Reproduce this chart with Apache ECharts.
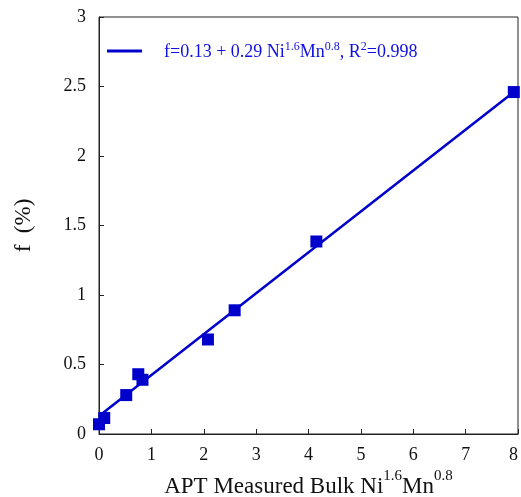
<!DOCTYPE html>
<html><head><meta charset="utf-8">
<script src="https://cdn.jsdelivr.net/npm/echarts@6/dist/echarts.min.js"></script>
<style>html,body{margin:0;padding:0;background:#fff}#c{width:521px;height:497px}</style>
</head><body><div id="c"></div>
<script>
// Measured data points
const xValues = [0.0, 0.1, 0.52, 0.75, 0.83, 2.08, 2.59, 4.15, 7.92];
const fValues = [0.07, 0.115, 0.28, 0.43, 0.39, 0.68, 0.89, 1.385, 2.46];
// Fit line endpoints (f = 0.13 + 0.29 x)
const fitX = [0, 7.92];
const fitY = [0.13, 2.46];
const xTicks = [0, 1, 2, 3, 4, 5, 6, 7, 8];
const yTicks = [0, 0.5, 1, 1.5, 2, 2.5, 3];
const fitName = 'fit';

const blue = '#0000cc';
const serif = 'Liberation Serif';
const chart = echarts.init(document.getElementById('c'), null, {renderer: 'canvas'});
chart.setOption({
  animation: false,
  backgroundColor: '#fff',
  grid: {left: 99, top: 17, right: 3, bottom: 63, show: true, borderColor: '#222', borderWidth: 1,
    containLabel: false, outerBoundsMode: 'none'},
  legend: {
    left: 107, top: 41, padding: 0,
    itemWidth: 35, itemHeight: 3,
    data: [{name: fitName, icon: 'rect'}],
    formatter: () => '{a|f=0.13 + 0.29 Ni}{s|1.6}{a|Mn}{s|0.8}{a|, R}{s|2}{a|=0.998}',
    textStyle: {
      padding: [0, 0, 0, 17],
      rich: {
        a: {fontFamily: serif, fontSize: 18, color: '#1010e0', lineHeight: 20, verticalAlign: 'bottom'},
        s: {fontFamily: serif, fontSize: 12, color: '#1010e0', lineHeight: 14, verticalAlign: 'top'}
      }
    }
  },
  xAxis: {
    type: 'value', min: 0, max: 8, interval: 1,
    axisLine: {show: true, lineStyle: {color: '#222', width: 1}},
    axisTick: {show: true, inside: true, length: 5, lineStyle: {color: '#222'}},
    splitLine: {show: false},
    axisLabel: {color: '#111', fontFamily: serif, fontSize: 18, margin: 12,
      customValues: xTicks, alignMaxLabel: 'right'},
    name: '{a|APT Measured Bulk Ni}{s|1.6}{a|Mn}{s|0.8}',
    nameLocation: 'middle', nameGap: 28,
    nameTextStyle: {
      rich: {
        a: {fontFamily: serif, fontSize: 23, color: '#111', lineHeight: 30, verticalAlign: 'bottom'},
        s: {fontFamily: serif, fontSize: 15, color: '#111', lineHeight: 16, verticalAlign: 'top', padding: [0, 0, 6, 0]}
      }
    }
  },
  yAxis: {
    type: 'value', min: 0, max: 3, interval: 0.5,
    axisLine: {show: true, lineStyle: {color: '#222', width: 1}},
    axisTick: {show: true, inside: true, length: 5, lineStyle: {color: '#222'}},
    splitLine: {show: false},
    axisLabel: {color: '#111', fontFamily: serif, fontSize: 18, margin: 13,
      formatter: v => String(v)},
    name: 'f  (%)', nameLocation: 'middle', nameGap: 64, nameRotate: 90,
    nameTextStyle: {fontFamily: serif, fontSize: 23, color: '#111'}
  },
  series: [
    {
      name: fitName, type: 'line', symbol: 'none', showSymbol: false,
      data: fitX.map((x, i) => [x, fitY[i]]),
      lineStyle: {color: blue, width: 2.5}, itemStyle: {color: blue},
      z: 2
    },
    {
      name: 'data', type: 'scatter', symbol: 'rect', symbolSize: 12,
      data: xValues.map((x, i) => [x, fValues[i]]),
      itemStyle: {color: blue, opacity: 1}, z: 3
    }
  ]
});
</script></body></html>
